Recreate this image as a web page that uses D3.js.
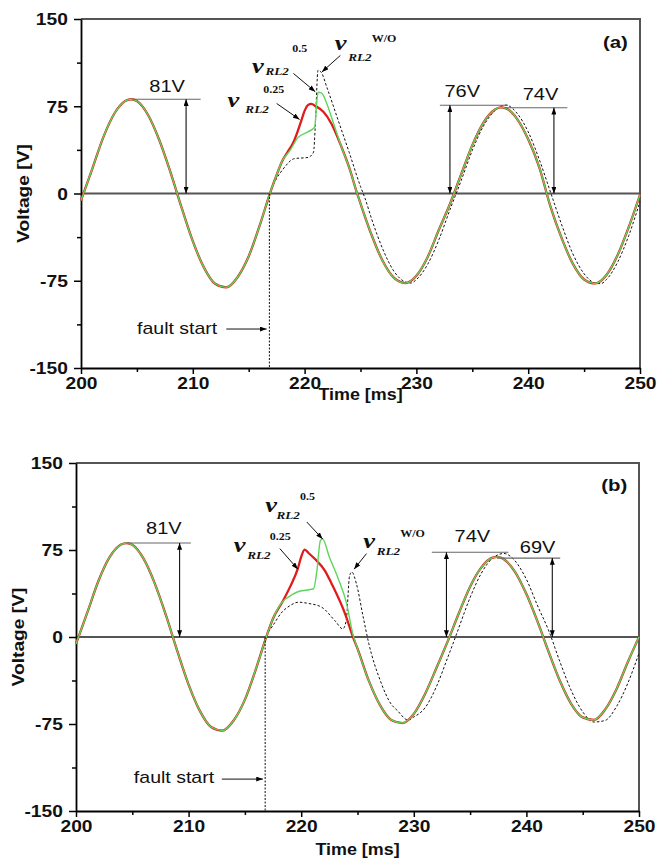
<!DOCTYPE html>
<html>
<head>
<meta charset="utf-8">
<script src="https://cdn.jsdelivr.net/npm/d3@7"></script>
<style>
  body { margin: 0; background: #fff; }
  svg { display: block; }
</style>
</head>
<body>
<div id="chart"></div>
<script>
/**
 * Data (time in ms, voltage in V)
 */
// pre-fault part, shared by every curve
var timePre = [200, 201, 202, 203, 204, 204.5, 205, 206, 207, 208, 209, 210, 211, 212, 213, 214, 215, 216, 217];
var voltPre = [-6, 21, 48.5, 69, 79.7, 81, 79.5, 67.5, 46, 18.4, -12.2, -41, -63.7, -77.6, -80.7, -72, -54, -27, 3];

// panel (a): fault part of v_RL2^0.25 (red)
var timeRedA = [217.5, 218, 218.5, 219, 219.4, 219.75, 220, 220.3, 220.6, 221, 221.7, 222.4, 223.3, 224, 224.7];
var voltRedA = [16, 28, 36, 44, 54, 64, 71, 76, 77, 75, 70, 60, 40, 22, 0];
// panel (a): fault part of v_RL2^0.5 (green)
var timeGreenA = [217.5, 218, 218.7, 219.4, 220.3, 220.9, 221.1, 221.2, 221.5, 221.7, 222, 222.7, 223.3, 224, 224.7];
var voltGreenA = [16, 28, 37, 48, 53, 57, 80, 87, 86.5, 84, 77, 57, 40, 22, 0];
// panel (a): post-fault part shared by red and green
var timePostA = [225, 226, 227, 228, 229, 230, 231, 232, 233, 234, 235, 236, 237, 237.5, 238, 239, 240, 241, 242, 243, 244, 245, 246, 247, 248, 249, 250];
var voltPostA = [-8.6, -35.9, -58.3, -72.6, -77, -70.6, -54.7, -31.4, -9, 16.4, 41.6, 61, 72, 74, 73.2, 64.2, 46.6, 22.3, -11.5, -38.6, -60.5, -73.9, -77.3, -70.1, -52.9, -28.7, -1];
// panel (a): v_RL2^W/O (dotted)
var timeWoA = [217.5, 218, 219.1, 220.3, 220.8, 220.95, 221.2, 221.5, 222, 223, 224, 225, 225.4, 226, 227, 228, 229, 229.5, 230, 231, 232, 233, 234, 235, 236, 237, 238, 239, 240, 241, 242, 243, 244, 245, 246, 246.5, 247, 248, 249, 250];
var voltWoA = [13, 20, 30, 31, 35.5, 57, 106, 104, 91, 63, 35, 6, -4, -22, -48, -67, -76, -77, -74, -61, -40, -14, 11, 37, 58, 71, 76, 69, 53, 29, 1, -27, -52, -69, -77, -77.5, -74, -59, -36, -7];

// panel (b)
var timeRedB = [217.5, 218.4, 219, 219.7, 220, 220.3, 220.7, 221.2, 222.1, 222.7, 223.9, 224.6];
var voltRedB = [16, 31.5, 43, 59, 69, 75.4, 72, 67.4, 57.3, 46, 20, 0];
var timeGreenB = [217.5, 218.4, 218.85, 219.7, 220.5, 221.1, 221.4, 221.7, 221.9, 222.5, 223.3, 224, 224.6];
var voltGreenB = [16, 31, 34.4, 39, 40.5, 41.6, 57.6, 83, 84.5, 69, 50, 30, 2];
var timePostB = [225, 226, 227, 228, 229, 230, 231, 232, 233, 234, 235, 236, 237, 237.5, 238, 239, 240, 241, 242, 243, 244, 245, 246, 247, 248, 249, 250];
var voltPostB = [-10, -37.6, -58.7, -71.5, -74.2, -66.3, -49.1, -27, -4, 20.5, 43.4, 60, 68.4, 69, 67, 56, 37, 13, -13.4, -38.4, -58, -69.3, -71.5, -62.4, -45, -21.7, 0];
var timeWoB = [217.4, 218.3, 219, 219.75, 220.6, 221.8, 223, 223.7, 224, 224.3, 224.5, 224.9, 225.5, 226, 227, 228, 228.5, 229.5, 230, 231, 232, 233, 233.7, 234, 235, 236, 237, 238, 239, 240, 241, 242, 243, 244, 245, 246, 247, 248, 249, 250];
var voltWoB = [8.6, 21.5, 27, 30, 29, 25.8, 14, 7, 14.3, 53, 56, 46, 17.5, -5.5, -37, -58, -63, -71.6, -69, -61, -43, -18, 0, 8, 34, 55, 68, 72, 65.5, 49.7, 26.8, 5, -22, -46.5, -64.5, -73.3, -71.9, -60, -40, -14];

// axis ticks
var xTicks = [200, 210, 220, 230, 240, 250];
var xMinorTicks = [205, 215, 225, 235, 245];
var yTicks = [-150, -75, 0, 75, 150];
var yMinorTicks = [-112.5, -37.5, 37.5, 112.5];

// fault start instant
var faultTime = [216.85, 216.8];
// peak markers per panel: label, level, arrow time, line from/to
var peaksA = [
  { label: "81V", v: 81, t: 209.4, t0: 204.6, t1: 210.7, lt: 207.7, lv: 87 },
  { label: "76V", v: 75.8, t: 233.0, t0: 232.1, t1: 238.2, lt: 234.1, lv: 83 },
  { label: "74V", v: 73.7, t: 242.3, t0: 237.9, t1: 243.5, lt: 241.1, lv: 80 }
];
var peaksB = [
  { label: "81V", v: 81, t: 209.2, t0: 204.5, t1: 210.2, lt: 207.8, lv: 89 },
  { label: "74V", v: 73, t: 232.9, t0: 231.6, t1: 238.4, lt: 235.2, lv: 82 },
  { label: "69V", v: 68, t: 242.3, t0: 237.4, t1: 243.0, lt: 241.0, lv: 72.5 }
];
// v_RL2 labels: superscript, position of "v", "RL2", superscript, arrow start/end
var curveLabelsA = [
  { sup: "0.25", vt: 213.1, vv: 74, rt: 214.7, rv: 68.8, st: 216.3, sv: 86.8, a: [217.5, 77.4, 219.55, 63.6] },
  { sup: "0.5", vt: 215.3, vv: 104, rt: 216.5, rv: 101.5, st: 218.9, sv: 122, a: [219.0, 103.2, 220.95, 87.5] },
  { sup: "W/O", vt: 222.7, vv: 123, rt: 223.9, rv: 113.5, st: 226.0, sv: 130, a: [223.2, 118.7, 221.55, 104.5] }
];
var curveLabelsB = [
  { sup: "0.25", vt: 214.0, vv: 73.3, rt: 215.2, rv: 67.6, st: 217.2, sv: 84, a: [218.1, 76.2, 219.7, 58.5] },
  { sup: "0.5", vt: 216.8, vv: 107.8, rt: 217.8, rv: 101.5, st: 219.9, sv: 117.8, a: [220.5, 99.1, 221.9, 84.5] },
  { sup: "W/O", vt: 225.5, vv: 77, rt: 226.7, rv: 70.4, st: 228.8, sv: 86.2, a: [225.8, 71.9, 224.7, 58.5] }
];

/**
 * Chart
 */
var svgWidth = 672;
var svgHeight = 859;
// horizontal stretch of the original figure's lettering
var sx = 1.2;

var svg = d3.select("#chart").append("svg")
  .attr("width", svgWidth)
  .attr("height", svgHeight)
  .style("background", "#fff");

// arrow head
var defs = svg.append("defs");
defs.append("marker")
  .attr("id", "arr")
  .attr("viewBox", "0 0 8 6")
  .attr("refX", 8).attr("refY", 3)
  .attr("markerWidth", 7).attr("markerHeight", 5)
  .attr("markerUnits", "userSpaceOnUse")
  .attr("orient", "auto-start-reverse")
  .append("path").attr("d", "M0,0L8,3L0,6Z").attr("fill", "#000");

// build a list of points from matching time / voltage arrays
function zipPoints() {
  var pts = [];
  for (var k = 0; k < arguments.length; k += 2) {
    var ts = arguments[k], vs = arguments[k + 1];
    ts.forEach((t, i) => pts.push([t, vs[i]]));
  }
  return pts;
}

// write a horizontally stretched text
function addText(g, x, y, s, font, anchor, scale) {
  return g.append("text")
    .attr("transform", `translate(${x},${y}) scale(${scale || sx},1)`)
    .attr("text-anchor", anchor || "start")
    .style("font", font)
    .attr("fill", "#111")
    .text(s);
}

var panels = [
  {
    name: "(a)", left: 81, right: 640, top: 19, bottom: 368, titleY: 400,
    red: zipPoints(timePre, voltPre, timeRedA, voltRedA, timePostA, voltPostA),
    green: zipPoints(timePre, voltPre, timeGreenA, voltGreenA, timePostA, voltPostA),
    wo: zipPoints(timePre, voltPre, timeWoA, voltWoA),
    peaks: peaksA, labels: curveLabelsA, fault: faultTime[0],
    faultText: [208.6, -121], faultArrow: [213.0, 216.6, -116.5]
  },
  {
    name: "(b)", left: 76, right: 639, top: 463, bottom: 811, titleY: 855,
    red: zipPoints(timePre, voltPre, timeRedB, voltRedB, timePostB, voltPostB),
    green: zipPoints(timePre, voltPre, timeGreenB, voltGreenB, timePostB, voltPostB),
    wo: zipPoints(timePre, voltPre, timeWoB, voltWoB),
    peaks: peaksB, labels: curveLabelsB, fault: faultTime[1],
    faultText: [208.7, -125.5], faultArrow: [212.95, 216.6, -122.5]
  }
];

var tickFont = "bold 16px 'Liberation Sans', Arial, sans-serif";

panels.forEach(p => {
  var x = d3.scaleLinear().domain([200, 250]).range([p.left, p.right]);
  var y = d3.scaleLinear().domain([-150, 150]).range([p.bottom, p.top]);
  var g = svg.append("g");

  // frame: top and right borders
  g.append("path")
    .attr("d", `M${p.left},${p.top}H${p.right}V${p.bottom}`)
    .attr("fill", "none").attr("stroke", "#555").attr("stroke-width", 2);

  // zero line
  g.append("line")
    .attr("x1", p.left).attr("x2", p.right)
    .attr("y1", y(0)).attr("y2", y(0))
    .attr("stroke", "#555").attr("stroke-width", 2);

  // minor ticks
  g.append("g").attr("transform", `translate(0,${p.bottom})`)
    .call(d3.axisBottom(x).tickValues(xMinorTicks).tickSize(4).tickFormat(""))
    .call(a => a.select(".domain").remove())
    .selectAll("line").attr("stroke", "#000").attr("stroke-width", 1.5);
  g.append("g").attr("transform", `translate(${p.left},0)`)
    .call(d3.axisLeft(y).tickValues(yMinorTicks).tickSize(4).tickFormat(""))
    .call(a => a.select(".domain").remove())
    .selectAll("line").attr("stroke", "#000").attr("stroke-width", 1.5);

  // major axes (plain hyphen for negative labels)
  var xAxis = g.append("g").attr("transform", `translate(0,${p.bottom})`)
    .call(d3.axisBottom(x).tickValues(xTicks).tickSize(6).tickSizeOuter(0).tickPadding(4)
      .tickFormat(d => String(d)));
  var yAxis = g.append("g").attr("transform", `translate(${p.left},0)`)
    .call(d3.axisLeft(y).tickValues(yTicks).tickSize(7).tickSizeOuter(0).tickPadding(4)
      .tickFormat(d => String(d)));
  [xAxis, yAxis].forEach(a => {
    a.select(".domain").attr("stroke", "#000").attr("stroke-width", 1.8);
    a.selectAll(".tick line").attr("stroke", "#000").attr("stroke-width", 1.5);
    a.selectAll(".tick text").style("font", tickFont).attr("fill", "#111");
  });
  xAxis.selectAll(".tick text").attr("transform", `scale(${sx},1)`);
  yAxis.selectAll(".tick text").attr("transform", `scale(${sx},1)`).attr("dy", "0.36em");

  // axis titles
  addText(g, (p.left + p.right) / 2, p.titleY, "Time [ms]", tickFont, "middle", 1.12);
  g.append("text")
    .attr("transform", `translate(${p.left - 52},${y(0)}) rotate(-90) scale(1.2,1)`)
    .attr("text-anchor", "middle")
    .style("font", tickFont).attr("fill", "#111")
    .text("Voltage [V]");

  // panel name
  addText(g, x(247.8), y(125.5), p.name, "bold 17px 'Liberation Sans', Arial, sans-serif", "middle");

  // curves: dotted one underneath so the overlapping part reads as one olive trace
  var line = d3.line().x(d => x(d[0])).y(d => y(d[1])).curve(d3.curveMonotoneX);
  g.append("path").datum(p.wo).attr("d", line)
    .attr("fill", "none").attr("stroke", "#111").attr("stroke-width", 1)
    .attr("stroke-dasharray", "2.5,2");
  g.append("path").datum(p.red).attr("d", line)
    .attr("fill", "none").attr("stroke", "#e01b1b").attr("stroke-width", 2.3);
  g.append("path").datum(p.green).attr("d", line)
    .attr("fill", "none").attr("stroke", "#5bd65b").attr("stroke-width", 1.4);

  // fault start
  g.append("line")
    .attr("x1", x(p.fault)).attr("x2", x(p.fault))
    .attr("y1", y(0)).attr("y2", y(-150))
    .attr("stroke", "#111").attr("stroke-width", 1).attr("stroke-dasharray", "2,1.5");
  addText(g, x(p.faultText[0]), y(p.faultText[1]), "fault start",
    "16px 'Liberation Sans', Arial, sans-serif", "middle", 1.22);
  g.append("line")
    .attr("x1", x(p.faultArrow[0])).attr("x2", x(p.faultArrow[1]))
    .attr("y1", y(p.faultArrow[2])).attr("y2", y(p.faultArrow[2]))
    .attr("stroke", "#111").attr("stroke-width", 1).attr("marker-end", "url(#arr)");

  // peak values
  p.peaks.forEach(d => {
    g.append("line")
      .attr("x1", x(d.t0)).attr("x2", x(d.t1))
      .attr("y1", y(d.v)).attr("y2", y(d.v))
      .attr("stroke", "#666").attr("stroke-width", 1.1);
    g.append("line")
      .attr("x1", x(d.t)).attr("x2", x(d.t))
      .attr("y1", y(d.v)).attr("y2", y(0))
      .attr("stroke", "#111").attr("stroke-width", 1.1)
      .attr("marker-start", "url(#arr)").attr("marker-end", "url(#arr)");
    addText(g, x(d.lt), y(d.lv), d.label, "16px 'Liberation Sans', Arial, sans-serif", "middle", 1.25);
  });

  // v_RL2 curve labels
  p.labels.forEach(d => {
    addText(g, x(d.vt), y(d.vv), "v", "italic bold 22px 'Liberation Serif', 'Times New Roman', serif");
    addText(g, x(d.rt), y(d.rv), "RL2", "italic bold 11px 'Liberation Serif', 'Times New Roman', serif");
    addText(g, x(d.st), y(d.sv), d.sup, "bold 10px 'Liberation Serif', 'Times New Roman', serif");
    g.append("line")
      .attr("x1", x(d.a[0])).attr("y1", y(d.a[1]))
      .attr("x2", x(d.a[2])).attr("y2", y(d.a[3]))
      .attr("stroke", "#111").attr("stroke-width", 1).attr("marker-end", "url(#arr)");
  });
});
</script>
</body>
</html>
